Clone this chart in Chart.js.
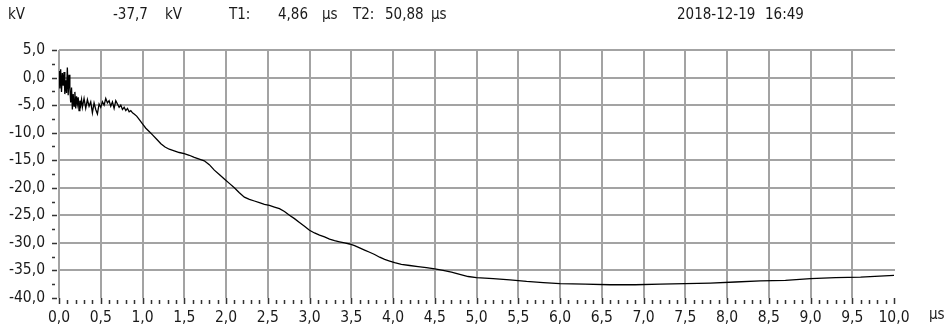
<!DOCTYPE html>
<html>
<head>
<meta charset="utf-8">
<script src="https://cdn.jsdelivr.net/npm/chart.js@4"></script>
<style>
    body { margin: 0; background: #fff; }
    #wrap { position: relative; width: 945px; height: 332px; }
    .hdr { position: absolute; top: 5px; font: 15px "DejaVu Sans Condensed", "Liberation Sans", sans-serif; color: #1a1a1a; white-space: pre; }
</style>
</head>
<body>
<div id="wrap">
    <canvas id="waveChart"></canvas>
    <span class="hdr" style="left:8px">kV</span>
    <span class="hdr" style="left:113px">-37,7</span>
    <span class="hdr" style="left:165px">kV</span>
    <span class="hdr" style="left:229px">T1:</span>
    <span class="hdr" style="left:278px">4,86</span>
    <span class="hdr" style="left:322px">µs</span>
    <span class="hdr" style="left:353px">T2:</span>
    <span class="hdr" style="left:385px">50,88</span>
    <span class="hdr" style="left:431px">µs</span>
    <span class="hdr" style="left:677px">2018-12-19</span>
    <span class="hdr" style="left:765px">16:49</span>
    <span class="hdr" style="left:929px;top:305px">µs</span>
</div>
<script>
// waveform: time in µs, voltage in kV
var timeUs = [
    0.00, 0.01, 0.02, 0.03, 0.04, 0.05, 0.06, 0.07, 0.08, 0.09,
    0.10, 0.11, 0.12, 0.13, 0.14, 0.15, 0.16, 0.17, 0.18, 0.19,
    0.20, 0.21, 0.22, 0.23, 0.24, 0.25, 0.26, 0.27, 0.28, 0.30,
    0.32, 0.34, 0.36, 0.38, 0.40, 0.42, 0.44, 0.46, 0.48, 0.50,
    0.52, 0.54, 0.56, 0.58, 0.60, 0.62, 0.64, 0.66, 0.68, 0.70,
    0.72, 0.74, 0.76, 0.78, 0.80, 0.82, 0.84, 0.86, 0.88, 0.90,
    0.93, 0.96, 1.00, 1.04, 1.08, 1.12, 1.17, 1.22, 1.27, 1.32,
    1.38, 1.44, 1.50, 1.56, 1.62, 1.68, 1.74, 1.80, 1.86, 1.92,
    1.98, 2.04, 2.10, 2.16, 2.22, 2.28, 2.34, 2.40, 2.46, 2.52,
    2.58, 2.64, 2.70, 2.76, 2.82, 2.88, 2.94, 3.00, 3.06, 3.12,
    3.18, 3.24, 3.30, 3.36, 3.42, 3.48, 3.54, 3.60, 3.66, 3.72,
    3.78, 3.84, 3.90, 3.96, 4.02, 4.10, 4.20, 4.30, 4.40, 4.50,
    4.60, 4.70, 4.80, 4.90, 5.00, 5.20, 5.40, 5.60, 5.80, 6.00,
    6.30, 6.60, 6.90, 7.20, 7.50, 7.80, 8.10, 8.40, 8.70, 9.00,
    9.30, 9.60, 10.00
];
var voltageKv = [
    1.2, -2.0, 1.5, -2.6, 0.8, -1.5, 1.0, -3.0, -0.5, -2.8,
    1.8, -3.2, 0.5, -2.0, -4.5, -1.8, -5.8, -3.0, -5.2, -2.6,
    -5.6, -3.4, -4.8, -3.6, -6.0, -4.2, -5.0, -4.0, -5.4, -3.8,
    -5.6, -4.0, -5.2, -4.4, -6.4, -4.6, -5.8, -6.6, -4.8, -5.4,
    -4.4, -5.0, -3.8, -4.6, -4.2, -5.2, -4.4, -5.6, -4.2, -4.8,
    -5.4, -5.0, -5.8, -5.4, -6.0, -5.6, -6.2, -6.0, -6.4, -6.6,
    -7.0, -7.6, -8.4, -9.2, -9.8, -10.4, -11.2, -12.0, -12.6, -13.0,
    -13.3, -13.6, -13.8, -14.1, -14.5, -14.8, -15.1, -15.8, -16.8, -17.6,
    -18.4, -19.2, -20.0, -20.9, -21.7, -22.1, -22.4, -22.7, -23.0, -23.2,
    -23.5, -23.8, -24.3, -25.0, -25.6, -26.3, -27.0, -27.7, -28.2, -28.6,
    -28.9, -29.3, -29.6, -29.8, -30.0, -30.2, -30.5, -30.9, -31.3, -31.7,
    -32.1, -32.6, -33.0, -33.3, -33.6, -33.9, -34.1, -34.3, -34.5, -34.7,
    -35.0, -35.3, -35.7, -36.1, -36.3, -36.5, -36.7, -37.0, -37.2, -37.4,
    -37.5, -37.6, -37.6, -37.5, -37.4, -37.3, -37.1, -36.9, -36.8, -36.5,
    -36.3, -36.2, -35.9
];

var xMin = 0, xMax = 10, xMajor = 0.5, xMinor = 0.1;
var yMin = -40, yMax = 5, yMajor = 5, yMinor = 2.5;

var axisFont = { family: '"DejaVu Sans Condensed", "Liberation Sans", sans-serif', size: 15.5 };
var gridColor = '#a3a3a3';

function comma(v) {
    return v.toFixed(1).replace('.', ',');
}

// grid at the major ticks (no line at 10,0 nor at -40,0), then the small tick marks
var scopeGrid = {
    id: 'scopeGrid',
    beforeDatasetsDraw: function (chart) {
        var ctx = chart.ctx;
        var xs = chart.scales.x;
        var ys = chart.scales.y;
        var area = chart.chartArea;
        ctx.save();
        ctx.strokeStyle = gridColor;
        ctx.lineWidth = 2;
        ctx.beginPath();
        xs.ticks.forEach(function (t) {
            if (t.value >= xMax) return;
            var px = Math.round(xs.getPixelForValue(t.value));
            ctx.moveTo(px, area.top);
            ctx.lineTo(px, area.bottom);
        });
        ys.ticks.forEach(function (t) {
            if (t.value <= yMin) return;
            var py = Math.round(ys.getPixelForValue(t.value));
            ctx.moveTo(area.left, py);
            ctx.lineTo(area.right + 1, py);
        });
        ctx.stroke();
        ctx.restore();
    },
    afterDraw: function (chart) {
        var ctx = chart.ctx;
        var xs = chart.scales.x;
        var ys = chart.scales.y;
        var area = chart.chartArea;
        ctx.save();
        ctx.strokeStyle = '#333';
        ctx.lineWidth = 1.5;
        ctx.beginPath();
        var n = Math.round((xMax - xMin) / xMinor);
        for (var i = 0; i <= n; i++) {
            var px = Math.round(xs.getPixelForValue(xMin + i * xMinor)) + 0.5;
            var major = i % Math.round(xMajor / xMinor) === 0;
            ctx.moveTo(px, area.bottom + (major ? 0 : 2));
            ctx.lineTo(px, area.bottom + 6);
        }
        var m = Math.round((yMax - yMin) / yMinor);
        for (var j = 0; j <= m; j++) {
            var py = Math.round(ys.getPixelForValue(yMin + j * yMinor)) + 0.5;
            var big = j % Math.round(yMajor / yMinor) === 0;
            ctx.moveTo(area.left - 7, py);
            ctx.lineTo(area.left - (big ? 2 : 4), py);
        }
        ctx.stroke();
        ctx.restore();
    }
};

var canvas = document.getElementById('waveChart');
var waveChart = new Chart(canvas, {
    type: 'line',
    data: {
        datasets: [{
            data: timeUs.map(function (t, i) { return { x: t, y: voltageKv[i] }; }),
            borderColor: '#000',
            borderWidth: 1.3,
            pointRadius: 0,
            tension: 0,
            fill: false
        }]
    },
    options: {
        responsive: true,
        maintainAspectRatio: false,
        animation: false,
        layout: { padding: { left: 0, top: 50, right: 51, bottom: 0 } },
        plugins: { legend: { display: false }, tooltip: { enabled: false } },
        scales: {
            x: {
                type: 'linear',
                min: xMin,
                max: xMax,
                afterFit: function (s) { s.height = 34; },
                border: { display: false },
                grid: { display: false, drawTicks: false },
                ticks: {
                    stepSize: xMajor,
                    padding: 11,
                    maxRotation: 0,
                    autoSkip: false,
                    color: '#1a1a1a',
                    font: axisFont,
                    callback: function (v) { return comma(v); }
                }
            },
            y: {
                min: yMin,
                max: yMax,
                afterFit: function (s) { s.width = 59; },
                border: { display: false },
                grid: { display: false, drawTicks: false },
                ticks: {
                    stepSize: yMajor,
                    padding: 14,
                    color: '#1a1a1a',
                    font: axisFont,
                    callback: function (v) { return comma(v); }
                }
            }
        }
    },
    plugins: [scopeGrid]
});
</script>
</body>
</html>
